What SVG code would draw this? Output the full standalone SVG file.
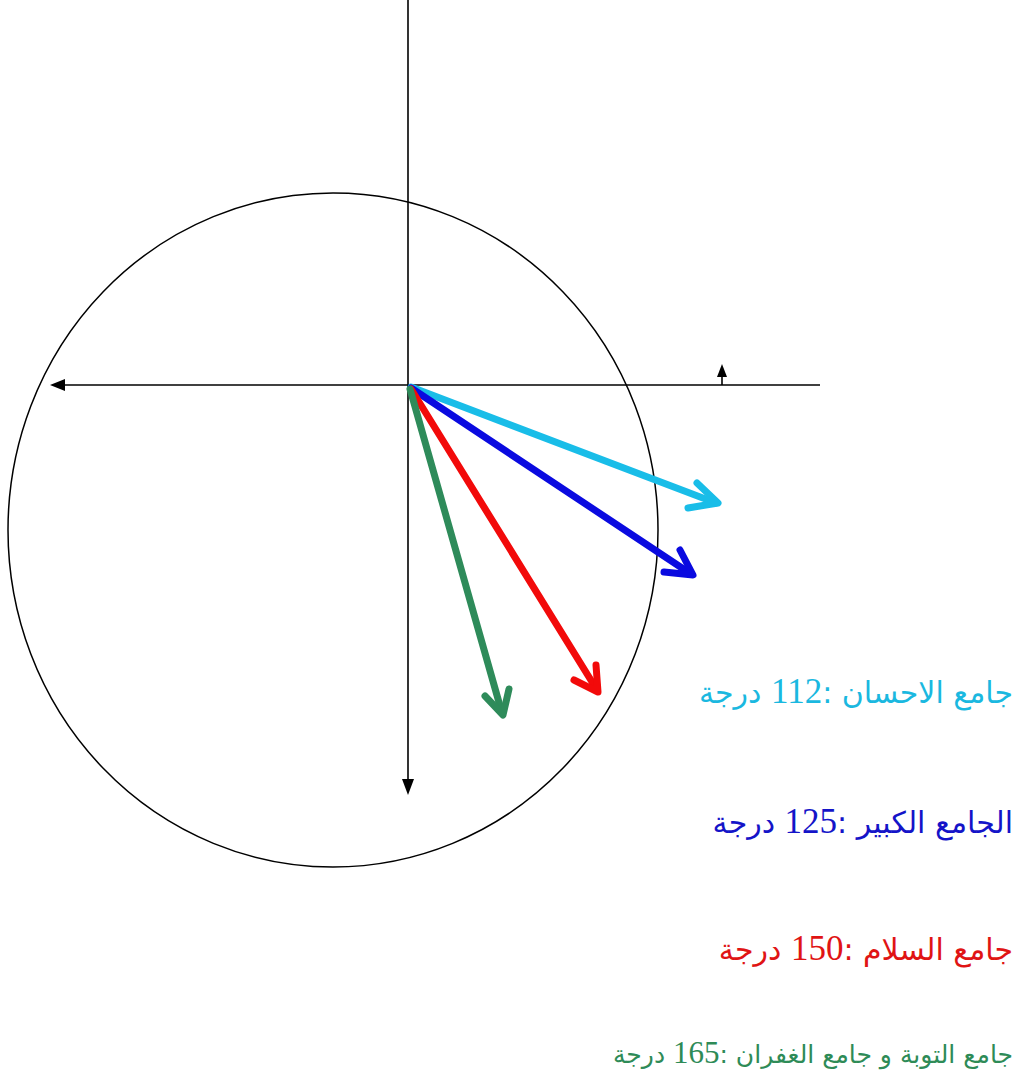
<svg xmlns="http://www.w3.org/2000/svg" width="1021" height="1092" viewBox="0 0 1021 1092">
<style>
.axis{stroke:#000;stroke-width:1.6;fill:none}
.head{fill:#000;stroke:none}
.vec{fill:none;stroke-width:7;stroke-linecap:round;stroke-linejoin:round}
.lbl{font-family:"DejaVu Sans","Liberation Serif",serif;font-size:30px}
.num{font-family:"Liberation Serif",serif;font-size:35px}
.lbl2{font-family:"DejaVu Sans","Liberation Serif",serif;font-size:25px}
.num2{font-family:"Liberation Serif",serif;font-size:31px}
</style>
<rect width="1021" height="1092" fill="#fff"/>
<g id="circle"><ellipse cx="333" cy="530" rx="325" ry="337" fill="none" stroke="#000" stroke-width="1.5"/></g>
<g id="connectors">
<g id="axis-vertical"><line class="axis" x1="408" y1="0" x2="408" y2="782"/><polygon class="head" points="402,779 414,779 408,795"/></g>
<g id="axis-horizontal"><line class="axis" x1="820" y1="385" x2="62" y2="385"/><polygon class="head" points="65,379 65,391 50,385"/></g>
<g id="axis-small"><line class="axis" x1="722" y1="385" x2="722" y2="375"/><polygon class="head" points="717,377 727,377 722,364"/></g>
<g id="vec-cyan" stroke="#19bde8"><path class="vec" d="M411,387 L716,503"/><path class="vec" d="M697,483 L718,503 L688,508"/></g>
<g id="vec-blue" stroke="#0a0ae0"><path class="vec" d="M411,388 L691,574"/><path class="vec" d="M680,550 L693,575 L664,572"/></g>
<g id="vec-red" stroke="#f20a0a"><path class="vec" d="M411,389 L597,690"/><path class="vec" d="M596,665 L598,692 L574,680"/></g>
<g id="vec-green" stroke="#2e8b5a"><path class="vec" d="M410,389 L502,713"/><path class="vec" d="M485,696 L503,715 L509,689"/></g>
</g>
<g id="label-cyan"><text x="1013" y="703" direction="rtl" fill="#1ab8e0" class="lbl">جامع الاحسان :<tspan class="num">112</tspan> درجة</text></g>
<g id="label-blue"><text x="1013" y="833" direction="rtl" fill="#1414c8" class="lbl">الجامع الكبير :<tspan class="num">125</tspan> درجة</text></g>
<g id="label-red"><text x="1013" y="960" direction="rtl" fill="#e01414" class="lbl">جامع السلام :<tspan class="num">150</tspan> درجة</text></g>
<g id="label-green"><text x="1013" y="1063" direction="rtl" fill="#2e8b57" class="lbl2">جامع التوبة و جامع الغفران :<tspan class="num2">165</tspan> درجة</text></g>
</svg>
